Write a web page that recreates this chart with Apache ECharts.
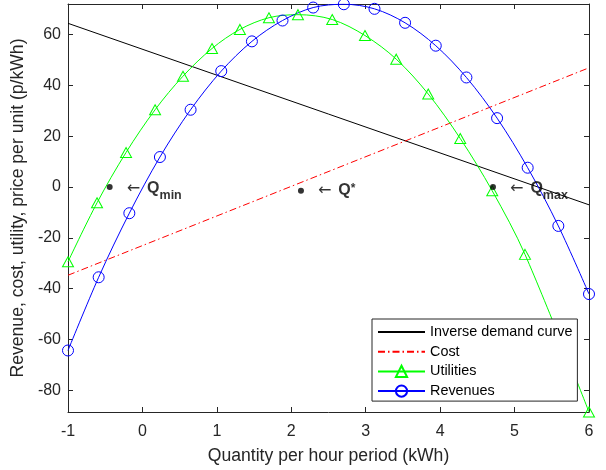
<!DOCTYPE html>
<html>
<head>
<meta charset="utf-8">
<script src="https://cdn.jsdelivr.net/npm/echarts@6/dist/echarts.min.js"></script>
<style>
  html, body { margin: 0; padding: 0; background: #fff; }
  #chart { width: 606px; height: 470px; }
</style>
</head>
<body>
<div id="chart"></div>
<script>
  // values
  const demandX = [-1, 6];
  const demandY = [64.4, -7.0];

  const costX = [-1, 6];
  const costY = [-34.7, 46.9];

  const utilX = [-1, -0.61, -0.22, 0.17, 0.545, 0.935, 1.31, 1.70, 2.09, 2.55, 2.99, 3.41, 3.84, 4.27, 4.70, 5.14, 6.0];
  const utilY = [-29.4, -6.2, 13.6, 30.4, 43.6, 54.5, 62.0, 66.6, 67.8, 65.9, 59.6, 50.3, 36.6, 19.1, -1.5, -26.5, -88.5];

  const revX = [-1, -0.588, -0.176, 0.235, 0.647, 1.059, 1.471, 1.882, 2.294, 2.706, 3.118, 3.529, 3.941, 4.353, 4.765, 5.176, 5.588, 6.0];
  const revY = [-64.3, -35.5, -10.3, 11.8, 30.4, 45.6, 57.3, 65.5, 70.6, 71.9, 70.1, 64.6, 55.6, 43.1, 27.1, 7.6, -15.3, -42.1];

  const qX = [-0.44, 2.13, 4.71];
  const qY = [0, -1.5, 0];
  const qTags = ['min', '*', 'max'];

  const xTicks = [-1, 0, 1, 2, 3, 4, 5, 6];
  const yTicks = [-80, -60, -40, -20, 0, 20, 40, 60];

  const font = 'Liberation Sans, Arial, Helvetica, sans-serif';
  const axisColor = '#262626';

  const zip = (xs, ys) => xs.map((x, i) => [x, ys[i]]);

  const chart = echarts.init(document.getElementById('chart'));

  const baseX = {
    type: 'value', min: xTicks[0], max: xTicks[xTicks.length - 1], interval: 1,
    axisLine: { show: true, onZero: false, lineStyle: { color: axisColor, width: 1 } },
    axisTick: { show: true, inside: true, length: 5, lineStyle: { color: axisColor } },
    splitLine: { show: false }
  };
  const baseY = {
    type: 'value', min: -88.5, max: 72, splitNumber: 8,
    axisLine: { show: true, onZero: false, lineStyle: { color: axisColor, width: 1 } },
    axisTick: { show: true, inside: true, length: 5, lineStyle: { color: axisColor } },
    splitLine: { show: false }
  };

  const qData = qX.map((x, i) => {
    const star = qTags[i] === '*';
    return {
      value: [x, qY[i]],
      label: {
        formatter: star ? '{a|←}{q|Q}{t|*}' : '{a|←}{q|Q}{s|' + qTags[i] + '}',
        offset: star ? [0, 1] : [0, 3]
      }
    };
  });

  const noMarker = { color: 'rgba(0,0,0,0)', borderWidth: 0, opacity: 0 };

  const option = {
    animation: false,
    backgroundColor: '#fff',
    grid: { left: 68, right: 17, top: 4, bottom: 55, containLabel: false },
    legend: {
      data: [
        { name: 'Inverse demand curve', itemStyle: noMarker },
        { name: 'Cost', itemStyle: noMarker },
        'Utilities',
        'Revenues'
      ],
      orient: 'vertical',
      left: 372, top: 319,
      itemWidth: 47, itemHeight: 14, itemGap: 5.7,
      padding: [6, 5, 3, 5],
      backgroundColor: '#fff',
      borderColor: axisColor, borderWidth: 1, borderRadius: 0,
      textStyle: { fontFamily: font, fontSize: 14.4, color: '#000', lineHeight: 14 }
    },
    xAxis: [
      Object.assign({}, baseX, {
        position: 'bottom',
        name: 'Quantity per hour period (kWh)',
        nameLocation: 'middle', nameGap: 35,
        nameTextStyle: { fontFamily: font, fontSize: 17.6, color: axisColor },
        axisLabel: { show: true, margin: 12, fontFamily: font, fontSize: 16, color: axisColor }
      }),
      Object.assign({}, baseX, { position: 'top', axisLabel: { show: false } })
    ],
    yAxis: [
      Object.assign({}, baseY, {
        position: 'left',
        name: 'Revenue, cost, utility, price per unit (p/kWh)',
        nameLocation: 'middle', nameGap: 36,
        nameTextStyle: { fontFamily: font, fontSize: 17.6, color: axisColor },
        axisLabel: {
          show: true, margin: 7, fontFamily: font, fontSize: 16, color: axisColor,
          formatter: v => (yTicks.indexOf(v) >= 0 ? String(v) : '')
        }
      }),
      Object.assign({}, baseY, { position: 'right', axisLabel: { show: false } })
    ],
    series: [
      {
        name: 'Inverse demand curve', type: 'line', xAxisIndex: 0, yAxisIndex: 0,
        data: zip(demandX, demandY), symbol: 'none', color: '#000000',
        lineStyle: { color: '#000000', width: 1 }
      },
      {
        name: 'Cost', type: 'line', xAxisIndex: 0, yAxisIndex: 0,
        data: zip(costX, costY), symbol: 'none', color: '#ff0000',
        lineStyle: { color: '#ff0000', width: 1, type: [7, 3, 1.5, 3] }
      },
      {
        name: 'Utilities', type: 'line', xAxisIndex: 0, yAxisIndex: 0,
        data: zip(utilX, utilY), smooth: 0.33,
        symbol: 'triangle', symbolSize: [11, 10], showAllSymbol: true,
        color: '#00ff00',
        lineStyle: { color: '#00ff00', width: 1 },
        itemStyle: { color: 'rgba(255,255,255,0)', borderColor: '#00ff00', borderWidth: 1 }
      },
      {
        name: 'Revenues', type: 'line', xAxisIndex: 0, yAxisIndex: 0,
        data: zip(revX, revY), smooth: 0.33,
        symbol: 'circle', symbolSize: 11, showAllSymbol: true,
        color: '#0000ff',
        lineStyle: { color: '#0000ff', width: 1 },
        itemStyle: { color: 'rgba(255,255,255,0)', borderColor: '#0000ff', borderWidth: 1 }
      },
      {
        name: 'points', type: 'scatter', xAxisIndex: 0, yAxisIndex: 0,
        data: qData, symbol: 'circle', symbolSize: 6,
        itemStyle: { color: '#000' },
        z: 5,
        label: {
          show: true, position: 'right', distance: 14, color: '#000',
          rich: {
            a: { fontFamily: 'DejaVu Sans', fontSize: 16, color: '#000', lineHeight: 18, verticalAlign: 'top', padding: [0, 7, 0, 0] },
            q: { fontFamily: font, fontSize: 16, fontWeight: 'bold', color: '#000', lineHeight: 18, verticalAlign: 'top' },
            s: { fontFamily: font, fontSize: 12.5, fontWeight: 'bold', color: '#000', lineHeight: 14, padding: [11, 0, 0, 0] },
            t: { fontFamily: font, fontSize: 12, fontWeight: 'bold', color: '#000', lineHeight: 12, verticalAlign: 'top' }
          }
        }
      }
    ]
  };

  chart.setOption(option);
  window.addEventListener('resize', function () {
    chart.resize();
  });
</script>
</body>
</html>
